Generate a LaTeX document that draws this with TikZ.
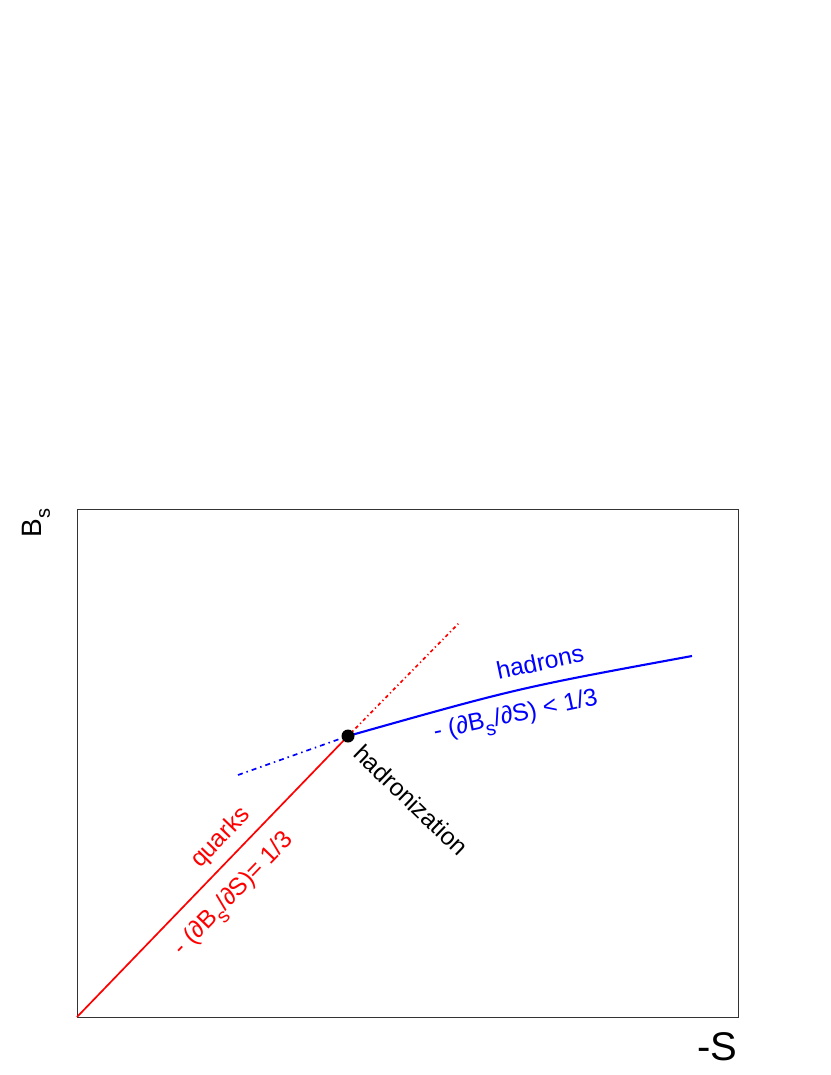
\documentclass[tikz,border=0pt]{standalone}
\usepackage{fontspec}
\setmainfont{Liberation Sans}
\newcommand{\subs}[1]{\raisebox{-0.6ex}{\fontsize{20}{20}\selectfont #1}}
\begin{document}
\begin{tikzpicture}[x=1pt,y=-1pt,
  lbl/.style={inner sep=0pt,font=\fontsize{24.5}{24.5}\selectfont},
  redline/.style={red,line width=1.7pt},
  blueline/.style={blue,line width=2.1pt}]
\useasboundingbox (0,0) rectangle (830,1075);
\draw[line width=0.9pt,black!80] (77,509) rectangle (738,1017);
\coordinate (o) at (77,1017);
\coordinate (h) at (348,736);
\coordinate (rend) at (459,623);
\coordinate (bend) at (692,656);
\coordinate (bstart) at (238,775);
\draw[redline] (o) -- (h);
\draw[red,line width=1.7pt,dash pattern=on 3.5pt off 3pt on 1.2pt off 3pt] (h) -- (rend);
\draw[blue,line width=1.7pt,dash pattern=on 5pt off 4pt on 1.5pt off 4pt] (bstart) -- (h);
\draw[blueline] (h) .. controls (518,688) .. (bend);
\fill (h) circle (6.5);
\node[lbl,red,rotate=46] (q) at (221,838) {quarks};
\node[lbl,red,rotate=46] (qd) at (235,895) {- (∂B\subs{s}/∂S)= 1/3};
\node[lbl,blue,rotate=12] (hd) at (540,662) {hadrons};
\node[lbl,blue,rotate=12] (hdd) at (516,717) {- (∂B\subs{s}/∂S) < 1/3};
\node[lbl,black,rotate=-44] (hz) at (411,800) {hadronization};
\node[inner sep=0pt,rotate=90,font=\fontsize{28}{28}\selectfont] (by) at (36,523) {B\raisebox{-0.6ex}{\fontsize{20}{20}\selectfont s}};
\node[inner sep=0pt,font=\fontsize{40}{40}\selectfont] (sx) at (717,1047) {-S};
\end{tikzpicture}
\end{document}
